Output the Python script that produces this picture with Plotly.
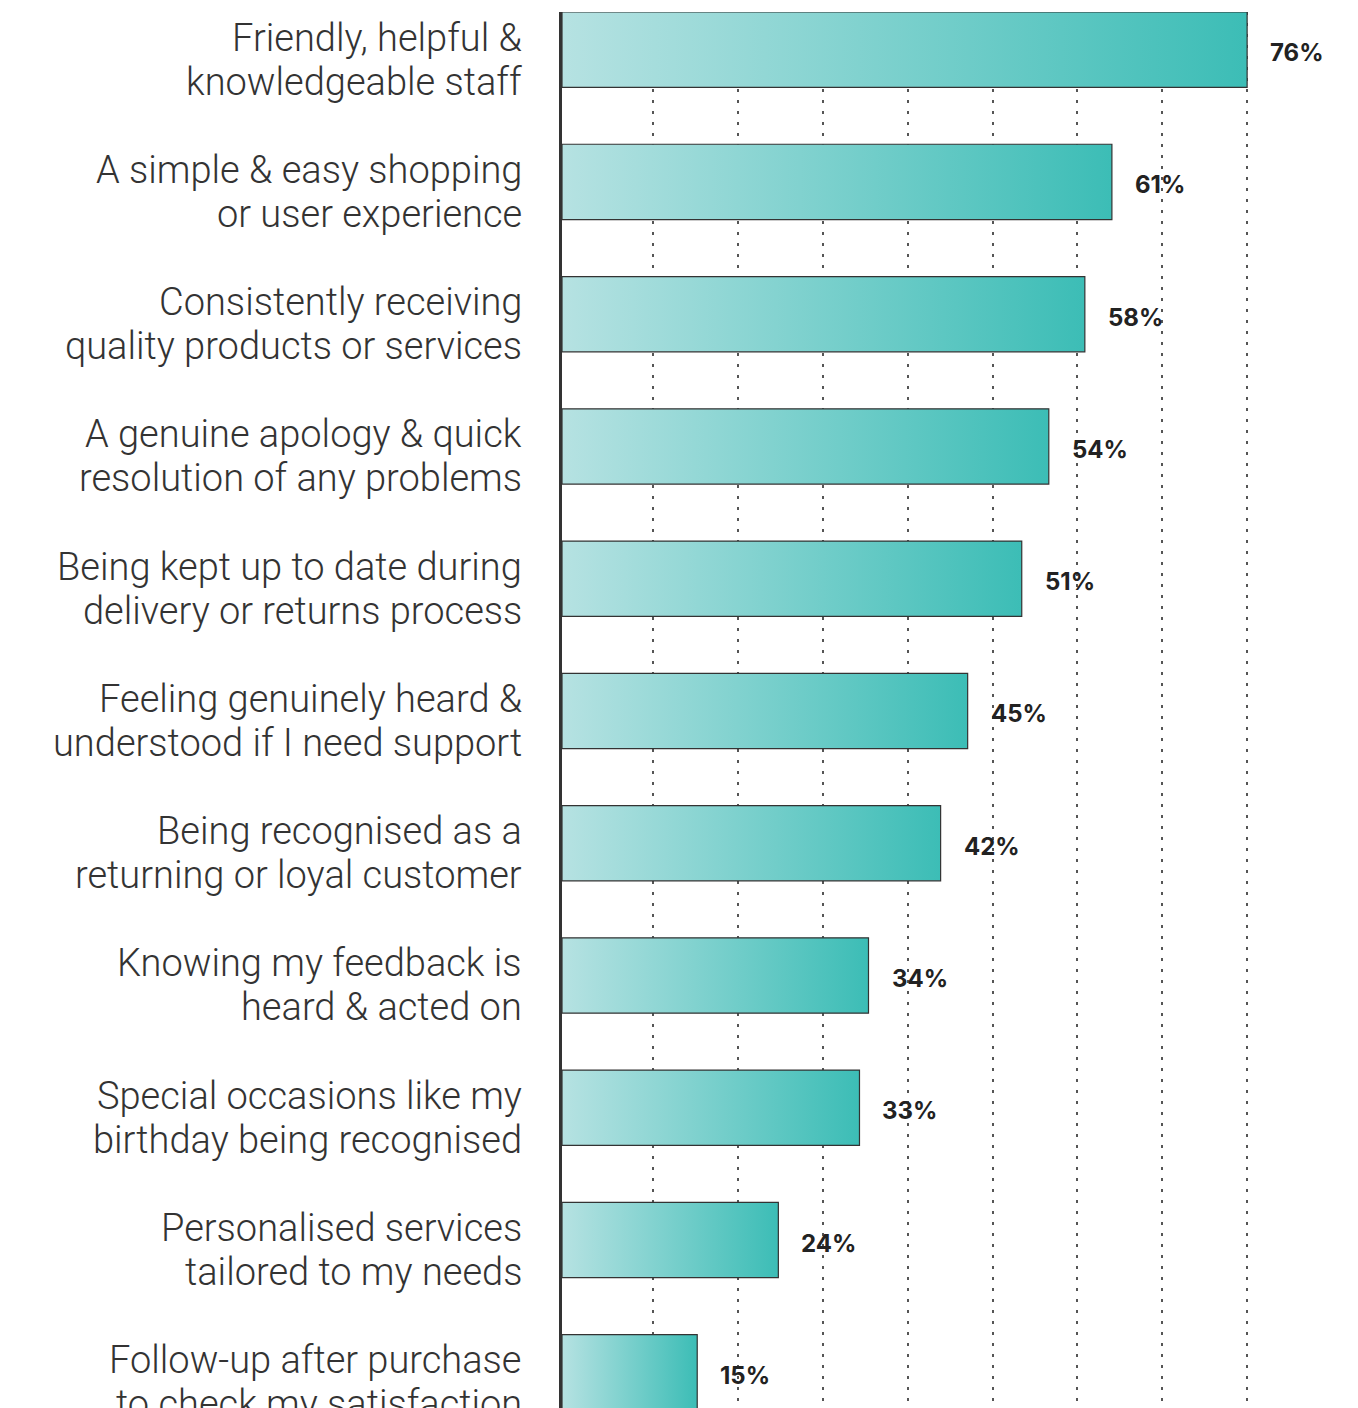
import plotly.graph_objects as go

categories = [
    "Friendly, helpful &<br>knowledgeable staff",
    "A simple & easy shopping<br>or user experience",
    "Consistently receiving<br>quality products or services",
    "A genuine apology & quick<br>resolution of any problems",
    "Being kept up to date during<br>delivery or returns process",
    "Feeling genuinely heard &<br>understood if I need support",
    "Being recognised as a<br>returning or loyal customer",
    "Knowing my feedback is<br>heard & acted on",
    "Special occasions like my<br>birthday being recognised",
    "Personalised services<br>tailored to my needs",
    "Follow-up after purchase<br>to check my satisfaction",
]
values = [76, 61, 58, 54, 51, 45, 42, 34, 33, 24, 15]

LIGHT = "#b6e2e2"
TEAL = "#3cbdb6"
HALF = 0.2846  # half bar thickness in category units
LABEL_FONT = "Roboto"

fig = go.Figure()
for i, v in enumerate(values):
    fig.add_trace(
        go.Scatter(
            x=[0, v, v, 0, 0],
            y=[i - HALF, i - HALF, i + HALF, i + HALF, i - HALF],
            mode="lines",
            fill="toself",
            fillgradient=dict(type="horizontal", colorscale=[[0, LIGHT], [1, TEAL]]),
            line=dict(color="#333333", width=1.2),
            hoverinfo="skip",
            showlegend=False,
        )
    )

for i, v in enumerate(values):
    fig.add_annotation(
        x=v, y=i, text=f"{v}%", showarrow=False,
        xanchor="left", yanchor="middle", xshift=21, yshift=-3,
        font=dict(family="Inter", size=24, weight=700, color="#222222"),
    )

# category labels to the left of the axis, one annotation per line
line_shifts = [12, -32]
for i, cat in enumerate(categories):
    for k, part in enumerate(cat.split("<br>")):
        fig.add_annotation(
            x=0, xref="paper", y=i, yref="y", text=part, showarrow=False,
            xanchor="right", yanchor="middle", align="right",
            xshift=-38, yshift=line_shifts[k],
            font=dict(family=LABEL_FONT, size=38, weight=300, color="#333333"),
        )

# decorative dotted guides, evenly spaced back from the top value
max_v = max(values)
grid_vals = [max_v - 9.415 * k for k in range(8)]

fig.update_xaxes(
    range=[0, 88.3],
    tickvals=grid_vals,
    showticklabels=False,
    showgrid=True,
    gridcolor="#555555",
    gridwidth=1.5,
    griddash="3px,8px",
    zeroline=False,
    showline=False,
    automargin=False,
)
fig.update_yaxes(
    range=[10.27, -HALF],
    showticklabels=False,
    showgrid=False,
    zeroline=False,
    showline=True,
    linecolor="#333333",
    linewidth=2.5,
    automargin=False,
)
fig.update_layout(
    width=1350,
    height=1400,
    margin=dict(l=554, r=0, t=4, b=0, autoexpand=False),
    plot_bgcolor="white",
    paper_bgcolor="white",
)

fig.write_html("out.html")
